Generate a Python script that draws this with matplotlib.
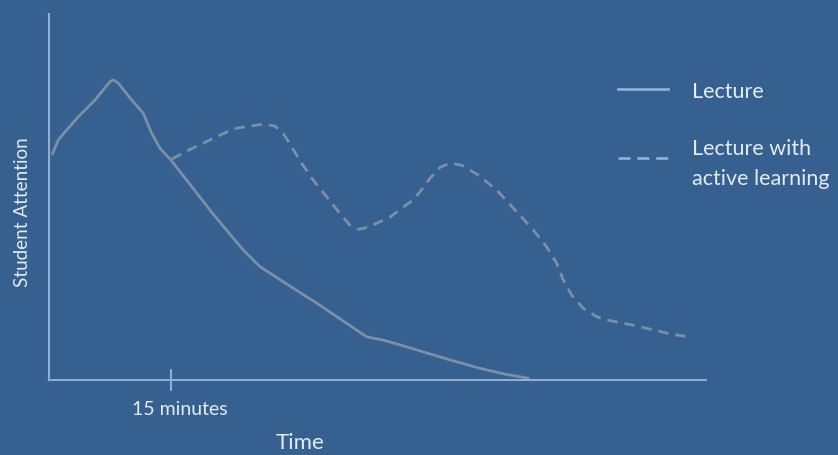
import matplotlib.pyplot as plt
from matplotlib.lines import Line2D
from matplotlib.transforms import ScaledTranslation

plt.rcParams['font.family'] = ['Lato', 'DejaVu Sans']
plt.rcParams['lines.scale_dashes'] = False

# attention curves, x in minutes, y in arbitrary attention units (0-100)
lecture_t = [0.41, 1.14, 1.97, 3.60, 5.66, 7.50, 7.91, 8.52, 10.17, 11.59,
             12.63, 13.65, 15.00, 20.16, 23.89, 25.94, 29.39, 32.92, 36.39,
             39.06, 41.10, 43.16, 46.02, 49.30, 52.99, 56.07, 58.93]
lecture_att = [61.7, 65.6, 67.8, 71.9, 76.5, 81.5, 82.0, 81.1, 76.5, 72.9,
               67.4, 63.3, 60.1, 45.4, 35.5, 31.0, 26.0, 21.0, 15.8,
               11.8, 10.9, 9.6, 7.7, 5.5, 3.2, 1.6, 0.5]

active_t = [15.12, 17.71, 19.80, 21.89, 23.08, 26.35, 27.79, 28.81, 29.84, 31.07,
            32.50, 34.14, 35.78, 37.01, 38.03, 38.65, 40.08, 41.93, 44.76, 45.62,
            46.85, 48.08, 49.31, 50.74, 52.79, 55.05, 57.51, 59.55, 61.20, 62.43,
            63.24, 64.27, 65.70, 67.34, 68.57, 71.81, 75.99, 78.81]
active_att = [60.4, 63.4, 65.6, 67.8, 68.8, 69.9, 69.4, 67.4, 63.7, 59.2,
              54.6, 50.1, 45.5, 42.3, 41.2, 41.4, 42.6, 44.5, 49.2, 51.4,
              55.1, 58.1, 59.2, 58.7, 56.0, 51.9, 46.0, 41.0, 36.4, 31.9,
              27.3, 23.2, 19.6, 17.3, 16.4, 15.0, 12.8, 11.7]

tick_pos = [15]
tick_labels = ['15 minutes']

bg = '#36608f'
curve_col = '#7c8fa8'
axis_col = '#8daed6'
text_col = '#e4eaf1'

W, H = 838, 455
fig = plt.figure(figsize=(W / 100, H / 100), dpi=100, facecolor=bg)
ax = fig.add_axes([49 / W, (H - 380) / H, (706 - 49) / W, (380 - 14) / H])
ax.set_facecolor(bg)

ax.plot(lecture_t, lecture_att, color=curve_col, lw=2.0,
        solid_joinstyle='round', solid_capstyle='round')
ax.plot(active_t, active_att, color=curve_col, lw=2.0,
        dashes=(7.5, 5), dash_capstyle='butt', dash_joinstyle='round')

ax.set_xlim(0, 80.8)
ax.set_ylim(0, 100)
for s in ['top', 'right']:
    ax.spines[s].set_visible(False)
for s in ['left', 'bottom']:
    ax.spines[s].set_color(axis_col)
    ax.spines[s].set_linewidth(1.5)

ax.set_yticks([])
ax.set_xticks(tick_pos)
ax.set_xticklabels(tick_labels)
ax.tick_params(axis='x', direction='inout', length=16.5, width=1.5,
               color=axis_col, labelcolor=text_col, labelsize=14, pad=7)
# label sits a little right of its tick
for lbl in ax.get_xticklabels():
    lbl.set_transform(lbl.get_transform() + ScaledTranslation(0.09, 0, fig.dpi_scale_trans))

fig.text(300 / W, 1 - 443 / H, 'Time', color=text_col, fontsize=16,
         ha='center', va='center')
fig.text(22 / W, 1 - 212 / H, 'Student Attention', color=text_col, fontsize=13.6,
         ha='center', va='center', rotation=90)

# legend keys
fig.add_artist(Line2D([618 / W, 668 / W], [1 - 89 / H] * 2, color=axis_col, lw=2.0))
fig.add_artist(Line2D([618 / W, 668 / W], [1 - 158 / H] * 2, color=axis_col, lw=2.0,
                      dashes=(8.6, 5), dash_capstyle='butt'))
fig.text(692 / W, 1 - 98 / H, 'Lecture', color=text_col, fontsize=15.5, va='baseline')
fig.text(692 / W, 1 - 155 / H, 'Lecture with', color=text_col, fontsize=15.5, va='baseline')
fig.text(692 / W, 1 - 185 / H, 'active learning', color=text_col, fontsize=15.5, va='baseline')

fig.savefig('out.png', dpi=100, facecolor=bg)
